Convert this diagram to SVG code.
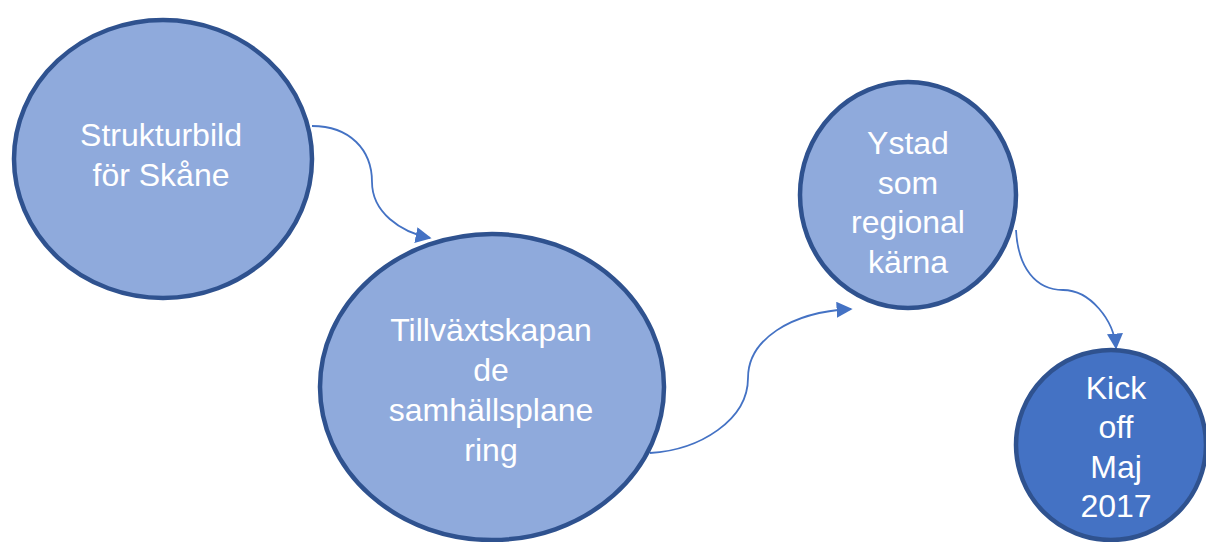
<svg xmlns="http://www.w3.org/2000/svg" width="1206" height="542" viewBox="0 0 1206 542">
<style>
.n{fill:#8FAADC;stroke:#2F528F;stroke-width:4.5}
.d{fill:#4472C4;stroke:#2F528F;stroke-width:4.5}
.t{font-family:"Liberation Sans",Arial,sans-serif;font-size:32px;fill:#FFFFFF;text-anchor:middle}
.c{fill:none;stroke:#4472C4;stroke-width:1.8}
</style>
<defs>
<marker id="ah2" viewBox="0 0 10 10" refX="9" refY="5" markerWidth="16" markerHeight="16" markerUnits="userSpaceOnUse" orient="auto">
<path d="M0,0 L10,5 L0,10 z" fill="#4472C4"/>
</marker>
</defs>
<g id="connectors">
<path class="c" d="M312,126 C350,126 372,150 372,182 C372,212 400,232 430,238" marker-end="url(#ah2)"/>
<path class="c" d="M650,453 C700,450 748,420 748,378 C748,340 790,312 851,309" marker-end="url(#ah2)"/>
<path class="c" d="M1016,230 C1018,268 1036,290 1063,290 C1090,290 1114,320 1116,348" marker-end="url(#ah2)"/>
</g>
<g id="n1">
<ellipse class="n" cx="163" cy="159" rx="149" ry="139"/>
<text class="t" x="161" y="146">Strukturbild</text>
<text class="t" x="161" y="186">för Skåne</text>
</g>
<g id="n2">
<ellipse class="n" cx="492" cy="387" rx="172" ry="153"/>
<text class="t" x="491" y="341">Tillväxtskapan</text>
<text class="t" x="491" y="381">de</text>
<text class="t" x="491" y="421">samhällsplane</text>
<text class="t" x="491" y="461">ring</text>
</g>
<g id="n3">
<ellipse class="n" cx="908" cy="195" rx="108" ry="113"/>
<text class="t" x="908" y="154">Ystad</text>
<text class="t" x="908" y="194">som</text>
<text class="t" x="908" y="233">regional</text>
<text class="t" x="908" y="273">kärna</text>
</g>
<g id="n4">
<ellipse class="d" cx="1111" cy="445" rx="95" ry="95"/>
<text class="t" x="1116" y="399">Kick</text>
<text class="t" x="1116" y="438">off</text>
<text class="t" x="1116" y="478">Maj</text>
<text class="t" x="1116" y="517">2017</text>
</g>
</svg>
